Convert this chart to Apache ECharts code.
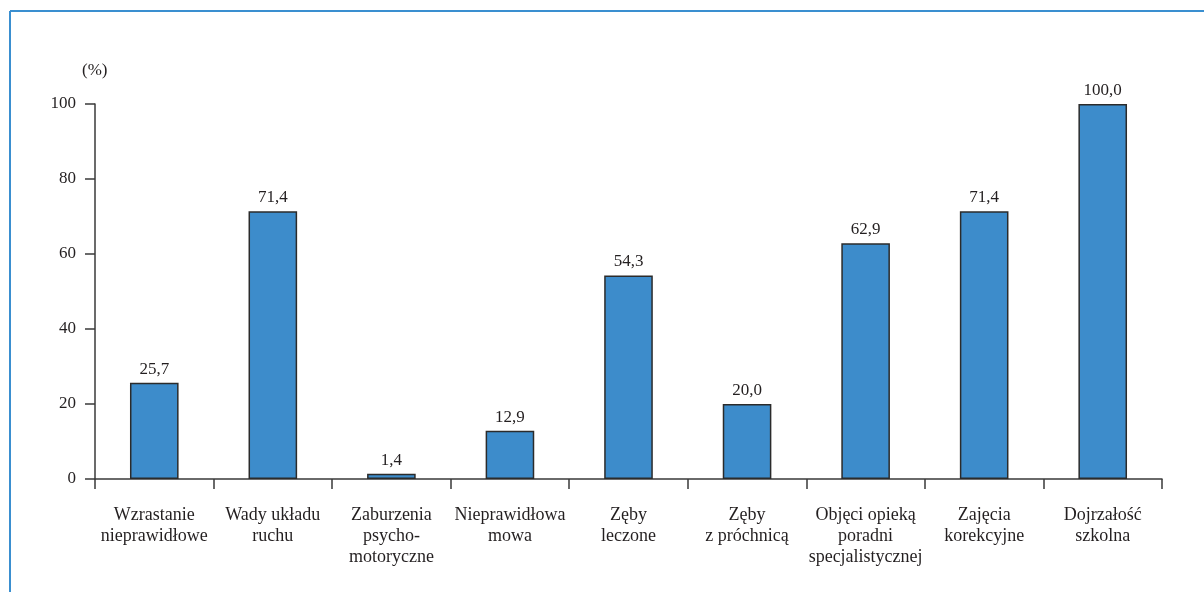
<!DOCTYPE html>
<html>
<head>
<meta charset="utf-8">
<script src="https://cdn.jsdelivr.net/npm/echarts@6/dist/echarts.min.js"></script>
<style>
  html, body { margin: 0; padding: 0; background: #ffffff; }
  #chart { width: 1204px; height: 592px; }
</style>
</head>
<body>
<div id="chart"></div>
<script>
// Categories (axis labels, line breaks as printed)
var categories = [
  'Wzrastanie\nnieprawidłowe',
  'Wady układu\nruchu',
  'Zaburzenia\npsycho-\nmotoryczne',
  'Nieprawidłowa\nmowa',
  'Zęby\nleczone',
  'Zęby\nz próchnicą',
  'Objęci opieką\nporadni\nspecjalistycznej',
  'Zajęcia\nkorekcyjne',
  'Dojrzałość\nszkolna'
];

// Percentages per category
var values = [25.7, 71.4, 1.4, 12.9, 54.3, 20.0, 62.9, 71.4, 100.0];

// Y axis ticks
var yTicks = [0, 20, 40, 60, 80, 100];

var FONT = '"Liberation Serif", "DejaVu Serif", serif';
var TEXT = '#231f20';
var AXIS = '#3a3a3a';
var FRAME = '#3a8fd0';

var chart = echarts.init(document.getElementById('chart'));

chart.setOption({
  backgroundColor: '#ffffff',
  animation: false,
  textStyle: { fontFamily: FONT },
  grid: { left: 95, right: 42, top: 104, bottom: 113, containLabel: false },
  graphic: [
    { type: 'line', shape: { x1: 10, y1: 11, x2: 1204, y2: 11 },
      style: { stroke: FRAME, lineWidth: 2 } },
    { type: 'line', shape: { x1: 10, y1: 11, x2: 10, y2: 592 },
      style: { stroke: FRAME, lineWidth: 2 } },
    { type: 'text', left: 82, top: 62,
      style: { text: '(%)', font: '17px ' + FONT, fill: TEXT } }
  ],
  xAxis: {
    type: 'category',
    data: categories,
    axisLine: { lineStyle: { color: AXIS, width: 1.5 } },
    axisTick: { show: true, length: 10, lineStyle: { color: AXIS, width: 1.5 } },
    axisLabel: {
      interval: 0,
      margin: 26,
      color: TEXT,
      fontFamily: FONT,
      fontSize: 18,
      lineHeight: 21
    },
    splitLine: { show: false }
  },
  yAxis: {
    type: 'value',
    min: yTicks[0],
    max: yTicks[yTicks.length - 1],
    interval: yTicks[1] - yTicks[0],
    axisLine: { show: true, lineStyle: { color: AXIS, width: 1.5 } },
    axisTick: { show: true, length: 10, lineStyle: { color: AXIS, width: 1.5 } },
    axisLabel: {
      margin: 19,
      color: TEXT,
      fontFamily: FONT,
      fontSize: 17
    },
    splitLine: { show: false }
  },
  series: [{
    type: 'bar',
    data: values,
    barWidth: '41%',
    itemStyle: { color: '#3d8ccb', borderColor: '#2b2b2b', borderWidth: 1.5 },
    label: {
      show: true,
      position: 'top',
      distance: 5,
      color: TEXT,
      fontFamily: FONT,
      fontSize: 17,
      formatter: function (p) { return p.value.toFixed(1).replace('.', ','); }
    }
  }]
});
</script>
</body>
</html>
